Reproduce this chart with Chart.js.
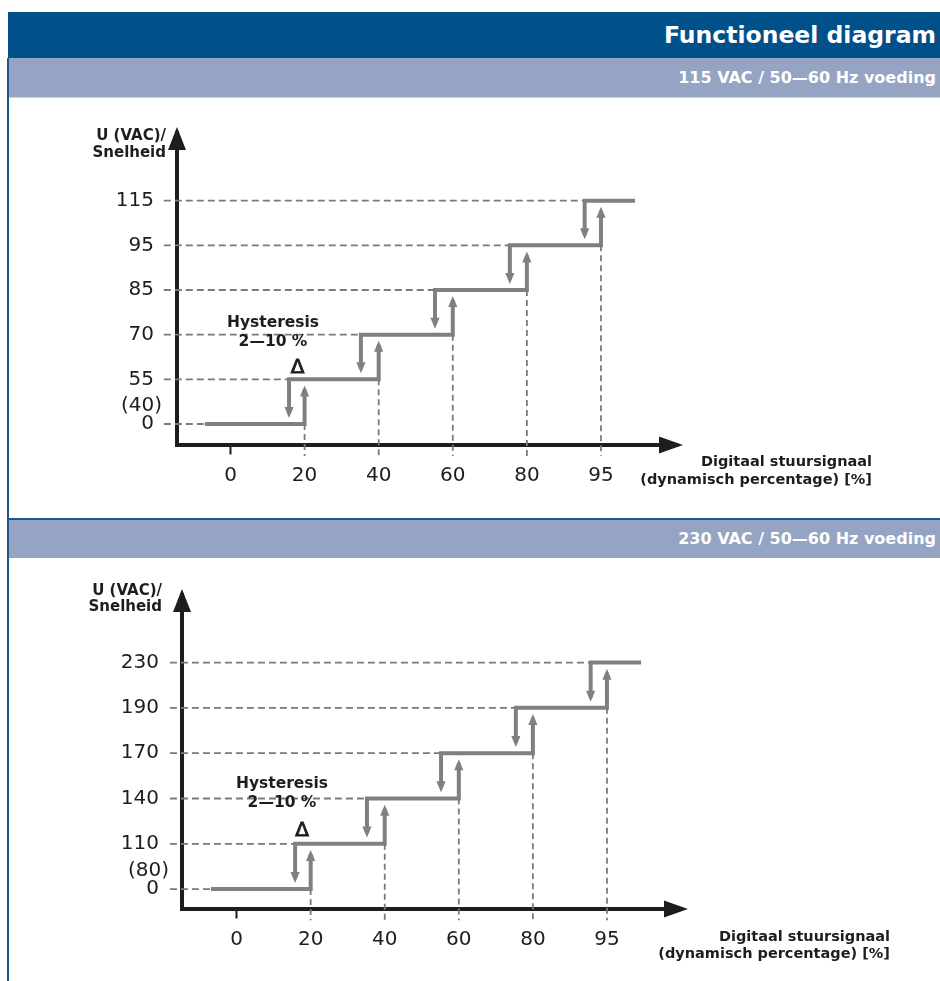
<!DOCTYPE html>
<html>
<head>
<meta charset="utf-8">
<script src="https://cdn.jsdelivr.net/npm/chart.js@4.4.1/dist/chart.umd.min.js"></script>
<style>
  html, body { margin: 0; padding: 0; background: #fff; }
  body { width: 940px; height: 981px; position: relative; overflow: hidden; font-family: 'DejaVu Sans', Verdana, sans-serif; }
  .bar { position: absolute; left: 8px; width: 932px; color: #fff; font-weight: bold; text-align: right; box-sizing: border-box; padding-right: 4px; white-space: nowrap; }
  #hdr { top: 12px; height: 46px; line-height: 46px; background: #00508a; font-size: 23.5px; }
  #sub1 { top: 58px; height: 40px; line-height: 40px; background: #94a4c2; font-size: 16px; border-bottom: 1px solid #c9d1e2; }
  #sub2 { top: 518px; height: 40px; line-height: 38px; background: #94a4c2; font-size: 16px; border-top: 2px solid #1c5a8c; }
  #leftline { position: absolute; left: 7px; top: 58px; width: 2px; height: 923px; background: #1c5a8c; z-index: 5; }
  canvas { position: absolute; left: 0; }
  #c1 { top: 98px; }
  #c2 { top: 560px; }
</style>
</head>
<body>
<div id="hdr" class="bar">Functioneel diagram</div>
<div id="sub1" class="bar">115 VAC / 50—60 Hz voeding</div>
<canvas id="c1" width="940" height="420"></canvas>
<div id="sub2" class="bar">230 VAC / 50—60 Hz voeding</div>
<canvas id="c2" width="940" height="421"></canvas>
<div id="leftline"></div>
<script>
// ---- data ----
const X_LABELS = ['0', '20', '40', '60', '80', '95'];           // digital control signal [%]
const LEVELS_115 = ['0', '55', '70', '85', '95', '115'];        // U (VAC) levels, 115 V supply
const LEVELS_230 = ['0', '110', '140', '170', '190', '230'];    // U (VAC) levels, 230 V supply
const LOW_115 = '(40)';
const LOW_230 = '(80)';
const UP_X = [1, 2, 3, 4, 5];                    // switch-up points (x tick index)
const DOWN_X = [0.79, 1.76, 2.76, 3.77, 4.78];   // switch-down points (hysteresis)
const LINE_START = -0.345;
const LINE_END = 5.46;

// ---- styles ----
const STEP = '#808080';
const DASH = '#7a7a7a';
const AX = '#1d1d1b';
const TXT = '#1d1d1b';
const FONT = "'DejaVu Sans', Verdana, sans-serif";

function buildChart(id, cfg) {
  const n = cfg.levels.length;
  const G = 0.225;              // where the arrow lines stop, in level units
  const DASH_START = -0.9;
  const step = [], hDash = [], vDash = [], arrows = [];

  // step line
  step.push({x: LINE_START, y: 0}, {x: UP_X[0], y: 0}, {x: UP_X[0], y: 1 - G}, {x: UP_X[0], y: null});
  for (let k = 1; k < n; k++) {
    step.push({x: DOWN_X[k - 1], y: k - 1 + G}, {x: DOWN_X[k - 1], y: k});
    if (k < n - 1) {
      step.push({x: UP_X[k], y: k}, {x: UP_X[k], y: k + 1 - G}, {x: UP_X[k], y: null});
    } else {
      step.push({x: LINE_END, y: k});
    }
  }
  for (let i = 0; i < n - 1; i++) {
    arrows.push({x: UP_X[i], y: i + 1 - G, dir: -1});
    arrows.push({x: DOWN_X[i], y: i + G, dir: 1});
  }
  // horizontal dashed guides
  for (let k = 0; k < n; k++) {
    const end = k === 0 ? LINE_START : DOWN_X[k - 1];
    hDash.push({x: DASH_START, y: k}, {x: end, y: k}, {x: end, y: null});
  }
  // vertical dashed guides
  const yLow = cfg.yMin - 0.26;
  for (let i = 0; i < n - 1; i++) {
    vDash.push({x: UP_X[i], y: i}, {x: UP_X[i], y: yLow}, {x: UP_X[i], y: null});
  }

  const top0 = cfg.canvasTop;
  const decor = {
    id: 'decor' + id,
    afterDatasetsDraw(chart) {
      const ctx = chart.ctx, xs = chart.scales.x, ys = chart.scales.y;
      ctx.save();
      ctx.fillStyle = STEP;
      arrows.forEach(a => {
        const px = xs.getPixelForValue(a.x);
        const py = ys.getPixelForValue(a.y);
        const tip = py + a.dir * 4;
        const base = tip - a.dir * 11;
        ctx.beginPath();
        ctx.moveTo(px, tip);
        ctx.lineTo(px - 4.6, base);
        ctx.lineTo(px + 4.6, base);
        ctx.closePath();
        ctx.fill();
      });
      ctx.restore();
    },
    afterDraw(chart) {
      const ctx = chart.ctx, ca = chart.chartArea;
      ctx.save();
      ctx.fillStyle = AX;
      // y axis arrow
      const yl = Math.round(ca.left);
      ctx.beginPath();
      ctx.moveTo(yl, ca.top - 6);
      ctx.lineTo(yl - 9, ca.top + 17);
      ctx.lineTo(yl + 9, ca.top + 17);
      ctx.closePath(); ctx.fill();
      // x axis arrow
      const xb = Math.round(ca.bottom);
      ctx.beginPath();
      ctx.moveTo(ca.right + 6, xb);
      ctx.lineTo(ca.right - 18, xb - 8.5);
      ctx.lineTo(ca.right - 18, xb + 8.5);
      ctx.closePath(); ctx.fill();

      ctx.fillStyle = TXT;
      ctx.strokeStyle = TXT;
      ctx.textBaseline = 'middle';
      const t = cfg.text;
      ctx.font = 'bold 15px ' + FONT;
      ctx.textAlign = 'right';
      ctx.fillText('U (VAC)/', t.yTitle[0], t.yTitle[1] - top0);
      ctx.fillText('Snelheid', t.yTitle[0], t.yTitle[2] - top0);
      ctx.font = 'bold 14.5px ' + FONT;
      ctx.fillText('Digitaal stuursignaal', t.xTitle[0], t.xTitle[1] - top0);
      ctx.fillText('(dynamisch percentage) [%]', t.xTitle[0], t.xTitle[2] - top0);
      ctx.font = '20px ' + FONT;
      ctx.fillText(cfg.low, t.low[0], t.low[1] - top0);
      ctx.textAlign = 'center';
      ctx.font = 'bold 15.5px ' + FONT;
      ctx.fillText('Hysteresis', t.hyst[0], t.hyst[1] - top0);
      ctx.fillText('2\u201410 %', t.hyst[0], t.hyst[2] - top0);
      ctx.font = '20px ' + FONT;
      ctx.lineWidth = 0.9;
      ctx.fillText('\u0394', t.delta[0], t.delta[1] - top0);
      ctx.strokeText('\u0394', t.delta[0], t.delta[1] - top0);
      ctx.restore();
    }
  };

  const h = cfg.height;
  return new Chart(document.getElementById(id), {
    type: 'line',
    data: {
      datasets: [
        {data: hDash, borderColor: DASH, borderWidth: 1.8, borderDash: [7, 4], pointRadius: 0, clip: false, spanGaps: false, fill: false},
        {data: vDash, borderColor: DASH, borderWidth: 1.8, borderDash: [6, 4], pointRadius: 0, clip: false, spanGaps: false, fill: false},
        {data: step, borderColor: STEP, borderWidth: 4, pointRadius: 0, clip: false, spanGaps: false, fill: false, borderJoinStyle: 'miter', borderCapStyle: 'butt'}
      ]
    },
    options: {
      responsive: false,
      animation: false,
      events: [],
      devicePixelRatio: 1,
      layout: {padding: {left: cfg.left - 100, right: 940 - cfg.right, top: cfg.top, bottom: h - cfg.bottom - 60}},
      plugins: {legend: {display: false}, tooltip: {enabled: false}, title: {display: false}},
      scales: {
        x: {
          type: 'linear', min: cfg.xMin, max: cfg.xMax,
          afterBuildTicks: s => { s.ticks = X_LABELS.map((_, i) => ({value: i})); },
          afterFit: s => { s.height = 60; },
          ticks: {callback: v => X_LABELS[v], font: {family: FONT, size: 20}, color: TXT, padding: 9, maxRotation: 0, autoSkip: false},
          grid: {display: true, drawOnChartArea: false, drawTicks: true, tickLength: 10, tickWidth: 2,
                 tickColor: c => (c.index === 0 ? AX : 'rgba(0,0,0,0)')},
          border: {display: true, color: AX, width: 4}
        },
        y: {
          type: 'linear', min: cfg.yMin, max: cfg.yMax,
          afterBuildTicks: s => { s.ticks = cfg.levels.map((_, i) => ({value: i})); },
          afterFit: s => { s.width = 100; },
          ticks: {callback: v => cfg.levels[v], font: {family: FONT, size: 20}, color: TXT, padding: 23, autoSkip: false},
          grid: {display: true, drawOnChartArea: false, drawTicks: false},
          border: {display: true, color: AX, width: 4}
        }
      }
    },
    plugins: [decor]
  });
}

buildChart('c1', {
  levels: LEVELS_115, low: LOW_115, canvasTop: 98, height: 420,
  left: 177, right: 677, top: 35, bottom: 346.5,
  xMin: -0.722, xMax: 6.026, yMin: -0.459, yMax: 6.516,
  text: {yTitle: [166, 136, 153], xTitle: [872, 462, 480], low: [162, 406], hyst: [273, 323, 342], delta: [297.5, 368]}
});
buildChart('c2', {
  levels: LEVELS_230, low: LOW_230, canvasTop: 560, height: 421,
  left: 182, right: 682, top: 33, bottom: 348.5,
  xMin: -0.737, xMax: 6.013, yMin: -0.428, yMax: 6.491,
  text: {yTitle: [162, 591, 607], xTitle: [890, 937, 954], low: [169, 871], hyst: [282, 784, 803], delta: [302, 831]}
});
</script>
</body>
</html>
